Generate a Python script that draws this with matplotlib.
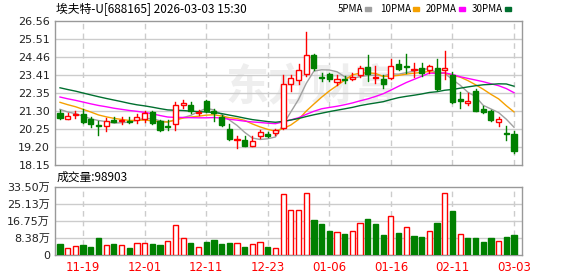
import matplotlib
matplotlib.use("Agg")
import matplotlib.pyplot as plt
from matplotlib.patches import Rectangle
import numpy as np
import pandas as pd

plt.rcParams['font.family'] = ['DejaVu Sans', 'Noto Sans CJK SC']

# daily K-line data (60 sessions)
opens = [21.17, 20.86, 21.05, 21.11, 20.82, 20.48, 20.40, 20.75, 20.71, 20.73,
         20.75, 20.86, 21.26, 20.71, 20.40, 20.55, 21.65, 21.67, 21.20, 21.89,
         21.30, 20.97, 20.25, 19.60, 19.62, 19.26, 19.83, 19.95, 20.04, 20.29,
         22.87, 23.10, 23.45, 24.59, 23.29, 23.46, 23.01, 23.15, 23.19, 23.41,
         23.87, 23.25, 23.15, 23.25, 24.03, 23.93, 23.68, 23.80, 23.68, 23.81,
         23.70, 23.39, 21.99, 21.77, 22.47, 21.42, 21.30, 20.68, 20.04, 19.96]
highs = [21.36, 21.17, 21.28, 21.40, 20.97, 20.73, 20.90, 20.97, 20.94, 20.94,
         21.13, 21.28, 21.30, 20.76, 20.80, 21.82, 21.97, 21.84, 21.36, 21.97,
         21.40, 21.05, 20.57, 19.83, 19.83, 19.83, 20.21, 20.08, 20.25, 23.41,
         23.41, 24.03, 25.90, 24.62, 23.50, 23.54, 23.41, 23.34, 23.55, 23.96,
         24.57, 23.95, 23.41, 24.32, 24.30, 24.63, 24.09, 24.09, 23.99, 24.32,
         24.81, 23.60, 22.43, 22.37, 22.57, 21.61, 21.36, 20.97, 20.43, 20.13]
lows = [20.86, 20.86, 20.90, 20.63, 20.38, 19.92, 20.15, 20.67, 20.52, 20.63,
        20.63, 20.67, 20.57, 20.11, 20.17, 20.17, 21.45, 21.20, 21.07, 21.24,
        20.73, 20.44, 19.61, 19.12, 19.24, 19.24, 19.70, 19.76, 19.91, 20.25,
        22.45, 22.86, 23.35, 23.70, 23.06, 23.06, 22.82, 22.96, 23.13, 23.31,
        23.06, 22.92, 22.63, 23.15, 23.68, 23.50, 23.31, 23.35, 23.50, 22.53,
        23.19, 21.79, 21.50, 21.65, 21.29, 21.20, 20.74, 20.44, 19.61, 18.87]
closes = [20.90, 21.03, 21.12, 20.67, 20.52, 20.40, 20.71, 20.69, 20.78, 20.69,
          20.97, 21.20, 20.63, 20.17, 20.36, 21.63, 21.79, 21.30, 21.26, 21.30,
          21.20, 20.48, 19.66, 19.68, 19.26, 19.54, 20.06, 19.87, 20.21, 22.88,
          23.23, 23.70, 24.57, 23.80, 23.25, 23.17, 23.19, 23.10, 23.31, 23.80,
          23.46, 23.31, 22.86, 23.91, 23.74, 23.89, 23.74, 23.50, 23.93, 22.59,
          23.81, 21.83, 21.90, 21.88, 21.32, 21.24, 20.78, 20.84, 19.94, 18.98]
# volume in 万 shares, and its up(1)/down(-1) colouring
volumes = [5.58, 3.67, 4.63, 4.79, 3.83, 8.61, 5.10, 5.26, 5.10, 3.35,
           6.06, 5.74, 5.26, 4.79, 6.70, 14.68, 8.45, 5.74, 4.15, 6.22,
           7.18, 5.26, 5.74, 6.06, 3.83, 5.58, 6.54, 3.83, 3.67, 29.99,
           22.33, 22.33, 30.31, 17.07, 15.31, 11.96, 11.33, 10.53, 11.80, 15.63,
           17.55, 15.31, 10.05, 18.98, 11.01, 13.72, 9.57, 9.09, 11.80, 15.79,
           30.47, 21.54, 10.37, 8.14, 8.61, 6.22, 8.61, 6.70, 9.09, 9.89]
vol_dir = [-1, 1, 1, -1, -1, -1, 1, -1, 1, -1,
           1, 1, -1, -1, 1, 1, 1, -1, 1, -1,
           -1, -1, -1, 1, -1, 1, 1, -1, 1, 1,
           1, 1, 1, -1, -1, -1, 1, -1, 1, 1,
           -1, -1, -1, 1, -1, 1, -1, -1, 1, -1,
           1, -1, 1, -1, -1, -1, -1, 1, -1, -1]
# closes before the visible window (needed for the moving averages)
prior_closes = [24.1, 23.9, 24.0, 23.8, 23.6, 23.7, 23.5, 23.6, 23.7, 23.5,
                23.1, 22.9, 22.7, 22.6, 22.3, 22.2, 22.4, 22.1, 22.0, 22.0,
                22.4, 22.3, 22.2, 22.1, 22.1, 21.8, 21.6, 21.4, 21.3]

tick_idx = [3, 11, 19, 27, 35, 43, 51, 59]
tick_labels = ['11-19', '12-01', '12-11', '12-23', '01-06', '01-16', '02-11', '03-03']
price_ticks = [18.15, 19.20, 20.25, 21.30, 22.35, 23.41, 24.46, 25.51, 26.56]
vol_ticks = [0, 8.38, 16.75, 25.13, 33.50]

RED = '#FF0000'
GREEN = '#008000'
GRID = '#CCCCCC'
FRAME = '#999999'

n = len(closes)
x = np.arange(n)
all_close = pd.Series(prior_closes + closes)
ma = {}
for w in [5, 10, 20, 30]:
    ma[w] = all_close.rolling(w).mean().values[len(prior_closes):]

fig = plt.figure(figsize=(5.78, 2.76), dpi=100)
ax = fig.add_axes([55 / 578, 1 - 165 / 276, 467 / 578, 144 / 276])
axv = fig.add_axes([55 / 578, 1 - 255 / 276, 467 / 578, 68 / 276])

for a in (ax, axv):
    a.set_xlim(-0.65, n + 0.04)
    for s in a.spines.values():
        s.set_color(FRAME)
        s.set_linewidth(1)
    for t in tick_idx:
        a.axvline(t, color=GRID, lw=1, ls=(0, (4, 3)), zorder=0)
    a.tick_params(length=0, labelsize=8, colors='#222222')

# watermark
ax.text(0.55, 0.54, '东方财富', transform=ax.transAxes, fontsize=31,
        fontweight='bold', color='#EEEEEE', ha='center', va='center',
        family='Noto Sans CJK SC', zorder=0)

ax.set_ylim(price_ticks[0], price_ticks[-1])
ax.set_yticks(price_ticks)
ax.set_yticklabels(['%.2f' % v for v in price_ticks])
for v in price_ticks[1:-1]:
    ax.axhline(v, color=GRID, lw=1, zorder=0)
ax.set_xticks([])

bw = 0.66
for i in range(n):
    o, h, l, c = opens[i], highs[i], lows[i], closes[i]
    up = c >= o
    col = RED if up else GREEN
    ax.plot([i, i], [l, h], color=col, lw=1, zorder=3)
    bottom = min(o, c)
    height = max(abs(c - o), 0.02)
    ax.add_patch(Rectangle((i - bw / 2, bottom), bw, height,
                           facecolor='white' if up else GREEN,
                           edgecolor=col, lw=1, zorder=4))

ma_colors = {5: '#A0A0A0', 10: '#F5A000', 20: '#FF00FF', 30: '#006F2F'}
for w in [5, 10, 20, 30]:
    ax.plot(x, ma[w], color=ma_colors[w], lw=1, zorder=2)

# volume panel
axv.set_ylim(0, vol_ticks[-1])
axv.set_yticks(vol_ticks)
axv.set_yticklabels(['0'] + ['%.2f万' % v for v in vol_ticks[1:]])
for v in vol_ticks[1:-1]:
    axv.axhline(v, color=GRID, lw=1, zorder=0)
for i in range(n):
    up = vol_dir[i] > 0
    col = RED if up else GREEN
    axv.add_patch(Rectangle((i - 0.34, 0), 0.68, volumes[i],
                            facecolor='white' if up else GREEN,
                            edgecolor=col, lw=1, zorder=3))
axv.set_xticks(tick_idx)
axv.set_xticklabels(tick_labels, color=RED, fontsize=8.5)
axv.tick_params(axis='x', pad=4)

# header texts
fig.text(56 / 578, 1 - 9 / 276, '埃夫特-U[688165] 2026-03-03 15:30',
         fontsize=8.5, va='center', family='Noto Sans CJK SC')
fig.text(57 / 578, 1 - 177 / 276, '成交量:98903', fontsize=8.5, va='center',
         family='Noto Sans CJK SC')
legend_items = [('5PMA', 338, 365, '#A0A0A0'), ('10PMA', 380, 413, '#F5A000'),
                ('20PMA', 426, 459, '#FF00FF'), ('30PMA', 472, 505, '#006F2F')]
for name, tx, sx, col in legend_items:
    fig.text(tx / 578, 1 - 9 / 276, name, fontsize=7, va='center',
             family='Noto Sans CJK SC')
    fig.patches.append(Rectangle((sx / 578, 1 - 11 / 276), 6 / 578, 4 / 276,
                                 transform=fig.transFigure, color=col))

fig.savefig('out.png', dpi=100)
